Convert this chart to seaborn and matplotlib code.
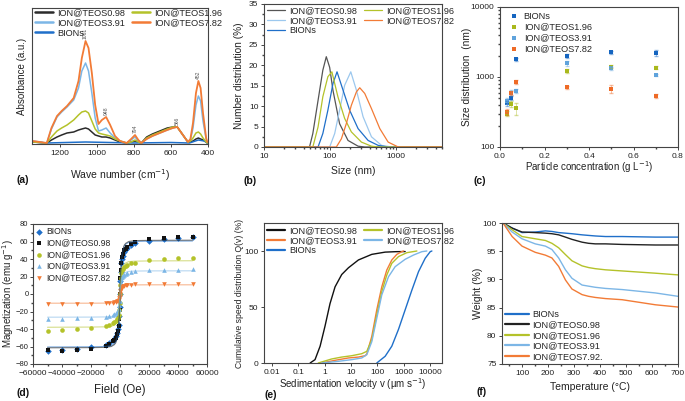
import numpy as np
import pandas as pd
import matplotlib
matplotlib.use("Agg")
import matplotlib.pyplot as plt
import matplotlib.ticker as mticker
import seaborn as sns

# ---------------- colours ----------------
C_BLACK = "#2b2b2b"
C_YEL = "#b4c22a"
C_LBLUE = "#7cb6e6"
C_ORANGE = "#f27b36"
C_BLUE = "#1f6fc9"

# ---------------- (a) FTIR ----------------
wn_main = [1346, 1270, 1245, 1215, 1190, 1161, 1125, 1099, 1081, 1061, 1045, 1027, 1009, 991, 973, 950,
           928, 902, 875, 839, 815, 794, 776, 760, 731, 700, 660, 620, 590, 566, 543, 520, 508, 495,
           481, 465, 452, 440, 427, 410, 404]
ftir_782 = [2, 0, 15, 27, 32, 37, 45, 62, 85, 102, 95, 70, 38, 19, 23, 26,
            18, 7, 2, 0, 4, 8, 3, 0, 4, 7, 10, 13, 15, 16, 10, 4, 1, 4,
            20, 50, 62, 55, 30, 5, 1]
ftir_391 = [2, 0, 14, 26, 31, 36, 43, 55, 72, 80, 72, 50, 25, 12, 13, 15,
            10, 5, 2, 0, 3, 6, 2, 0, 4, 7, 10, 13, 15, 16, 10, 4, 1, 3,
            15, 38, 47, 42, 22, 4, 1]
ftir_196 = [1, 0, 6, 12, 15, 18, 23, 28, 31, 32, 30, 22, 14, 10, 9, 8,
            7, 4, 2, 0, 1, 3, 1, 0, 5, 8, 11, 14, 16, 16, 10, 4, 1, 2,
            5, 10, 11, 9, 5, 1, 0]
ftir_098 = [1, 0, 3, 6, 8, 10, 11, 13, 14, 15, 14, 11, 8, 7, 6, 6,
            5, 3, 1, 0, 1, 2, 1, 0, 6, 9, 12, 15, 16, 16, 10, 4, 1, 1,
            2, 4, 5, 4, 3, 1, 0]
wn_bions = [1346, 1270, 1061, 800, 600, 500, 452, 420, 404]
ftir_bions = [1, 0, 1, 0, 0.5, 0, 3, 2, 0]
peak_wn = [1061, 948, 794, 566, 452]
peak_lab = ["1061", "948", "794", "566", "452"]
peak_y = [104, 28, 10, 18, 64]

# ---------------- (b) DLS number distribution ----------------
size_098 = [10, 49, 55, 66, 78, 88, 99, 111, 140, 188, 267, 337, 5000]
num_098 = [0, 0, 3.3, 11.4, 18.8, 22.1, 19.5, 13.9, 5.7, 1.6, 0.2, 0, 0]
size_196 = [10, 55, 66, 78, 93, 107, 132, 167, 211, 300, 426, 538, 5000]
num_196 = [0, 0, 4.9, 12.3, 17.2, 18.4, 12.3, 7.0, 3.7, 1.2, 0.2, 0, 0]
size_391 = [10, 99, 118, 140, 167, 207, 252, 318, 426, 605, 859, 5000]
num_391 = [0, 0, 3.3, 9.0, 15.1, 18.4, 13.9, 7.4, 2.5, 0.4, 0, 0]
size_782 = [10, 125, 149, 177, 211, 252, 283, 337, 426, 570, 763, 1085, 5000]
num_782 = [0, 0, 2.0, 5.7, 10.2, 13.5, 14.5, 13.1, 9.4, 4.5, 1.2, 0, 0]
size_bions = [10, 66, 78, 93, 111, 128, 158, 199, 267, 379, 538, 763, 5000]
num_bions = [0, 0, 3.3, 9.0, 15.5, 18.4, 13.9, 9.0, 4.5, 1.6, 0.4, 0, 0]

# ---------------- (c) size vs concentration ----------------
conc = [0.03, 0.05, 0.07, 0.3, 0.5, 0.7]
sz_bions = [419, 505, 1795, 2000, 2260, 2190]
sz_196 = [301, 410, 355, 1219, 1406, 1361]
sz_391 = [452, 596, 637, 1570, 1331, 1069]
sz_782 = [318, 596, 857, 711, 673, 540]
err_bions = [40, 30, 80, 150, 100, 220]
err_196 = [25, 40, 70, 70, 60, 60]
err_391 = [45, 50, 40, 120, 60, 50]
err_782 = [35, 40, 60, 40, 90, 40]

# ---------------- (d) magnetization ----------------
field = [-50000, -40000, -30000, -20000, -10000, -7500, -5000, -4000, -3000, -2000, -1500, -1000, -500, -250, 0,
         250, 500, 1000, 1500, 2000, 3000, 4000, 5000, 7500, 10000, 20000, 30000, 40000, 50000]
mag_bions = [-65, -64, -63, -61, -58, -56, -53, -51, -48, -44, -40, -35, -25, -15, 0,
             15, 25, 35, 40, 44, 48, 51, 53, 56, 58, 61, 63, 64, 65]
mag_098 = [-64, -65, -64, -63, -59, -57, -54, -52, -50, -46, -42, -36, -28, -18, 0,
           18, 28, 36, 42, 46, 50, 52, 54, 57, 59, 63, 64, 65, 65]
mag_196 = [-42, -41, -40, -39, -36, -35, -33, -32, -31, -29, -27, -24, -18, -10, 0,
           10, 18, 24, 27, 29, 31, 32, 33, 35, 36, 39, 40, 41, 41.5]
mag_391 = [-28, -28, -27.5, -27, -26, -25.5, -24, -23, -22, -21, -19, -17, -13, -8, 0,
           8, 13, 17, 19, 21, 22, 23, 24, 25.5, 26, 27, 28, 28, 28.5]
mag_782 = [-11, -11.5, -11, -11, -10.5, -10.2, -10, -9.5, -9, -8.5, -8, -7, -5, -3, 0,
           3, 5, 8, 8.5, 9, 9.5, 10, 10.2, 10.8, 11, 11.5, 11.8, 12, 12]
fit_field = [-50000, -20000, -10000, -6000, -4000, -3000, -2000, -1500, -1000, -500, 0,
             500, 1000, 1500, 2000, 3000, 4000, 6000, 10000, 20000, 50000]
fit_bions = [-60.5, -60.3, -60, -59, -57, -55, -50, -46, -38, -22, 0, 22, 38, 46, 50, 55, 57, 59, 60, 60.3, 60.5]
fit_098 = [-61.5, -61.3, -61, -60, -58, -56, -51, -47, -39, -23, 0, 23, 39, 47, 51, 56, 58, 60, 61, 61.3, 61.5]
fit_196 = [-38, -37.8, -37.5, -37, -35.5, -34, -31, -28.5, -24, -14, 0, 14, 24, 28.5, 31, 34, 35.5, 37, 37.5, 37.8, 38]
fit_391 = [-26.5, -26.4, -26.2, -25.8, -24.8, -23.8, -21.7, -20, -16.8, -9.8, 0,
           9.8, 16.8, 20, 21.7, 23.8, 24.8, 25.8, 26.2, 26.4, 26.5]
fit_782 = [-10.5, -10.5, -10.4, -10.2, -9.8, -9.4, -8.6, -7.9, -6.6, -3.9, 0,
           3.9, 6.6, 7.9, 8.6, 9.4, 9.8, 10.2, 10.4, 10.5, 10.5]

# ---------------- (e) sedimentation velocity ----------------
vel_098 = [0.28, 0.43, 0.67, 1.03, 1.59, 2.47, 4.42, 7.93, 19.0, 61.0, 196, 500, 1124]
cum_098 = [0, 3, 15, 33, 53, 68, 79, 85, 92, 97, 99, 99.4, 99.5]
vel_391 = [0.77, 2.47, 7.93, 19.0, 34.0, 39.4, 61.0, 94.3, 146, 226, 350, 542, 840, 971]
cum_391 = [0, 2.4, 4.5, 5.3, 6.5, 8, 23.7, 47.5, 68, 83, 92, 97, 99.4, 100]
vel_196 = [0.57, 1.84, 4.42, 10.6, 25.4, 39.4, 61.0, 94.3, 146, 226, 350, 627, 1300, 3120]
cum_196 = [0, 3.6, 5.3, 6.5, 8.3, 10.4, 20.8, 43, 63.8, 78.6, 89, 95, 98.5, 100]
vel_782 = [0.77, 3.30, 10.6, 25.4, 39.4, 61.0, 94.3, 146, 262, 469, 1124, 2330, 4830, 7470]
cum_782 = [0, 1.5, 3, 4.5, 7.4, 19, 40, 60.8, 77, 86, 92.6, 96.4, 99.4, 100]
vel_bions = [94.3, 196, 350, 627, 1124, 2014, 3610, 6460, 10000, 11570]
cum_bions = [0, 6, 15, 30, 47.5, 65, 81.6, 93.5, 99.4, 100]

# ---------------- (f) TGA ----------------
temp = [27, 62, 100, 151, 190, 215, 241, 267, 292, 331, 356, 382, 421, 485, 613, 700]
tga_bions = [100, 99.1, 98.3, 98.4, 98.6, 98.5, 98.3, 98.2, 98.1, 97.9, 97.8, 97.7, 97.6, 97.6, 97.5, 97.5]
tga_098 = [100, 99.1, 98.4, 98.3, 98.2, 98.1, 97.9, 97.5, 97.1, 96.6, 96.4, 96.3, 96.3, 96.2, 96.1, 96.1]
tga_196 = [100, 98.8, 97.6, 97.2, 96.9, 96.4, 95.6, 94.4, 93.3, 92.4, 92.1, 91.9, 91.7, 91.5, 91.1, 90.8]
tga_391 = [100, 98.4, 97.2, 96.3, 95.9, 95.3, 93.8, 91.7, 90.2, 89.0, 88.8, 88.6, 88.4, 88.2, 87.6, 87.0]
tga_792 = [100, 97.6, 95.9, 94.8, 94.3, 93.8, 92.3, 89.9, 88.3, 87.3, 87.0, 86.8, 86.6, 86.4, 85.5, 85.1]

# ---------------- style ----------------
sns.set_theme(style="ticks")
plt.rcParams["font.family"] = ["Liberation Sans", "DejaVu Sans"]
plt.rcParams.update({
    "axes.edgecolor": "#444444", "axes.linewidth": 0.8,
    "xtick.color": "#444444", "ytick.color": "#444444",
    "xtick.labelcolor": "#222222", "ytick.labelcolor": "#222222",
    "xtick.labelsize": 6.0, "ytick.labelsize": 6.0,
    "xtick.major.size": 2.5, "ytick.major.size": 2.5,
    "xtick.minor.size": 1.5, "ytick.minor.size": 1.5,
    "xtick.major.width": 0.7, "ytick.major.width": 0.7,
    "xtick.direction": "out", "ytick.direction": "out",
    "xtick.major.pad": 1.5, "ytick.major.pad": 1.5,
    "axes.labelsize": 7.3, "axes.labelcolor": "#222222",
    "legend.fontsize": 6.6, "legend.frameon": False,
})

W, H = 685, 401
fig = plt.figure(figsize=(W / 100, H / 100), dpi=100)


def px_axes(l, r, t, b):
    return fig.add_axes([l / W, 1 - b / H, (r - l) / W, (b - t) / H])


def label_coords(ax, xl, yl):
    ax.xaxis.set_label_coords(0.5, xl)
    ax.yaxis.set_label_coords(yl, 0.5)


def line(ax, x, y, color, label=None, lw=1.0, **kw):
    sns.lineplot(x=x, y=y, ax=ax, color=color, label=label, linewidth=lw,
                 sort=False, estimator=None, **kw)


# ---- (a)
ax = px_axes(32, 208, 8, 144)
line(ax, wn_main, ftir_098, C_BLACK, "ION@TEOS0.98", 1.1)
line(ax, wn_main, ftir_391, C_LBLUE, "ION@TEOS3.91", 1.1)
line(ax, wn_bions, ftir_bions, C_BLUE, "BIONs", 1.1)
line(ax, wn_main, ftir_196, C_YEL, "ION@TEOS1.96", 1.1)
line(ax, wn_main, ftir_782, C_ORANGE, "ION@TEOS7.82", 1.3)
for w, t, yy in zip(peak_wn, peak_lab, peak_y):
    ax.text(w, yy, t, rotation=90, fontsize=3.6, color="#555555", ha="center", va="bottom")
ax.set_xlim(1350, 400)
ax.set_ylim(-1, 135)
ax.set_xticks([1200, 1000, 800, 600, 400])
ax.set_yticks([])
ax.set_xlabel("Wave number (cm$^{-1}$)", fontsize=7.5)
ax.set_ylabel("Absorbance (a.u.)", fontsize=7.0)
label_coords(ax, -0.17, -0.03)
leg = ax.legend(ncol=2, loc="upper left", bbox_to_anchor=(-0.01, 1.03), handlelength=2.0,
                columnspacing=0.8, handletextpad=0.4, labelspacing=0.12, borderaxespad=0.1)
for h in leg.get_lines():
    h.set_linewidth(1.8)

# ---- (b)
ax = px_axes(264, 442, 4, 147)
line(ax, size_098, num_098, "#555555", "ION@TEOS0.98", 0.9)
line(ax, size_391, num_391, "#9cc8ee", "ION@TEOS3.91", 0.9)
line(ax, size_bions, num_bions, C_BLUE, "BIONs", 0.9)
line(ax, size_196, num_196, C_YEL, "ION@TEOS1.96", 0.9)
line(ax, size_782, num_782, C_ORANGE, "ION@TEOS7.82", 0.9)
ax.set_xscale("log")
ax.set_xlim(10, 5000)
ax.set_ylim(0, 35)
ax.set_yticks(range(0, 36, 5))
ax.yaxis.set_minor_locator(mticker.MultipleLocator(2.5))
ax.xaxis.set_major_formatter(mticker.FuncFormatter(lambda v, p: f"{v:g}"))
ax.set_xlabel("Size (nm)", fontsize=7.5)
ax.set_ylabel("Number distribution (%)")
label_coords(ax, -0.135, -0.115)
ax.legend(ncol=2, loc="upper left", bbox_to_anchor=(-0.01, 1.02), handlelength=2.0,
          columnspacing=0.8, handletextpad=0.4, labelspacing=0.12, borderaxespad=0.1)

# ---- (c)
ax = px_axes(500, 678, 7, 147)
c_series = [("BIONs", sz_bions, err_bions, "#1565c0"), ("ION@TEOS1.96", sz_196, err_196, "#a9b81c"),
            ("ION@TEOS3.91", sz_391, err_391, "#5fa3dc"), ("ION@TEOS7.82", sz_782, err_782, "#ee6a26")]
for name, yv, ev, col in c_series:
    ax.errorbar(conc, yv, yerr=ev, fmt="none", ecolor=col, elinewidth=0.6, capsize=1.2, alpha=0.45)
    sns.scatterplot(x=conc, y=yv, ax=ax, color=col, marker="s", s=11, linewidth=0, label=name)
ax.set_yscale("log")
ax.set_xlim(0, 0.8)
ax.set_ylim(100, 10000)
ax.set_xticks([0.0, 0.2, 0.4, 0.6, 0.8])
ax.xaxis.set_minor_locator(mticker.MultipleLocator(0.1))
ax.xaxis.set_major_formatter(mticker.FormatStrFormatter("%.1f"))
ax.yaxis.set_major_formatter(mticker.FuncFormatter(lambda v, p: f"{v:g}"))
ax.set_xlabel("Particle concentration (g L$^{-1}$)", fontsize=7.0)
ax.set_ylabel("Size distribution  (nm)")
label_coords(ax, -0.09, -0.155)
ax.legend(loc="upper left", bbox_to_anchor=(0.02, 1.0), handletextpad=0.5, labelspacing=0.22,
          handlelength=1.2, markerscale=0.9, borderaxespad=0.1)

# ---- (d)
ax = px_axes(33, 207, 224, 364)
d_series = [("BIONs", mag_bions, fit_bions, C_BLUE, "D"), ("ION@TEOS0.98", mag_098, fit_098, "#111111", "s"),
            ("ION@TEOS1.96", mag_196, fit_196, C_YEL, "o"), ("ION@TEOS3.91", mag_391, fit_391, C_LBLUE, "^"),
            ("ION@TEOS7.82", mag_782, fit_782, C_ORANGE, "v")]
for name, mv, fv, col, mk in d_series:
    line(ax, fit_field, fv, col, None, 0.8, alpha=0.55)
for name, mv, fv, col, mk in d_series:
    sns.scatterplot(x=field, y=mv, ax=ax, color=col, marker=mk, s=11, linewidth=0, label=name)
ax.set_xlim(-60000, 60000)
ax.set_ylim(-80, 80)
ax.set_xticks(range(-60000, 60001, 20000))
ax.set_yticks(range(-80, 81, 20))
ax.tick_params(axis="y", labelsize=5.5, pad=0.8)
ax.yaxis.set_minor_locator(mticker.MultipleLocator(10))
ax.xaxis.set_minor_locator(mticker.MultipleLocator(10000))
ax.set_xlabel("Field (Oe)", fontsize=8.3)
ax.set_ylabel("Magnetization (emu g$^{-1}$)", fontsize=7.0)
label_coords(ax, -0.14, -0.1)
ax.legend(loc="upper left", bbox_to_anchor=(-0.02, 1.01), handletextpad=0.3, labelspacing=0.3,
          handlelength=1.2, fontsize=6.2, borderaxespad=0.1)

# ---- (e)
ax = px_axes(264, 442, 223, 363)
line(ax, vel_098, cum_098, "#111111", "ION@TEOS0.98", 1.0)
line(ax, vel_391, cum_391, C_ORANGE, "ION@TEOS3.91", 1.0)
line(ax, vel_bions, cum_bions, C_BLUE, "BIONs", 1.0)
line(ax, vel_196, cum_196, C_YEL, "ION@TEOS1.96", 1.0)
line(ax, vel_782, cum_782, C_LBLUE, "ION@TEOS7.82", 1.0)
ax.set_xscale("log")
ax.set_xlim(0.005, 28000)
ax.set_ylim(0, 125)
ax.set_xticks([0.01, 0.1, 1, 10, 100, 1000, 10000])
ax.xaxis.set_major_formatter(mticker.FuncFormatter(lambda v, p: f"{v:g}"))
ax.xaxis.set_minor_locator(mticker.NullLocator())
ax.set_yticks([0, 50, 100])
ax.set_xlabel("Sedimentation velocity v (µm s$^{-1}$)", fontsize=7.0)
ax.set_ylabel("Cumulative speed distribution Q(v) (%)", fontsize=6.2)
label_coords(ax, -0.095, -0.115)
leg = ax.legend(ncol=2, loc="upper left", bbox_to_anchor=(-0.01, 1.01), handlelength=2.0,
                columnspacing=0.8, handletextpad=0.4, labelspacing=0.12, borderaxespad=0.1)
for h in leg.get_lines():
    h.set_linewidth(1.6)

# ---- (f)
ax = px_axes(502, 678, 223, 364)
line(ax, temp, tga_bions, C_BLUE, "BIONs", 1.0)
line(ax, temp, tga_098, "#222222", "ION@TEOS0.98", 1.0)
line(ax, temp, tga_196, C_YEL, "ION@TEOS1.96", 1.0)
line(ax, temp, tga_391, C_LBLUE, "ION@TEOS3.91", 1.0)
line(ax, temp, tga_792, C_ORANGE, "ION@TEOS7.92.", 1.0)
ax.set_xlim(23, 700)
ax.set_ylim(75, 100)
ax.set_xticks(range(100, 701, 100))
ax.set_yticks(range(75, 101, 5))
ax.xaxis.set_minor_locator(mticker.MultipleLocator(50))
ax.set_xlabel("Temperature (°C)", fontsize=7.5)
ax.set_ylabel("Weight (%)", fontsize=7.5)
label_coords(ax, -0.13, -0.11)
leg = ax.legend(loc="lower left", bbox_to_anchor=(-0.01, -0.01), handlelength=2.6, handletextpad=0.4,
                labelspacing=0.15, borderaxespad=0.1)
for h in leg.get_lines():
    h.set_linewidth(1.6)

# panel letters
for t, x, y in [("(a)", 23, 180), ("(b)", 250, 181), ("(c)", 480, 181),
                ("(d)", 23, 393), ("(e)", 271, 395), ("(f)", 482, 392)]:
    fig.text(x / W, 1 - y / H, t, fontsize=7.5, fontweight="bold", ha="center", va="center", color="#111111")

fig.savefig("out.png", dpi=100)
